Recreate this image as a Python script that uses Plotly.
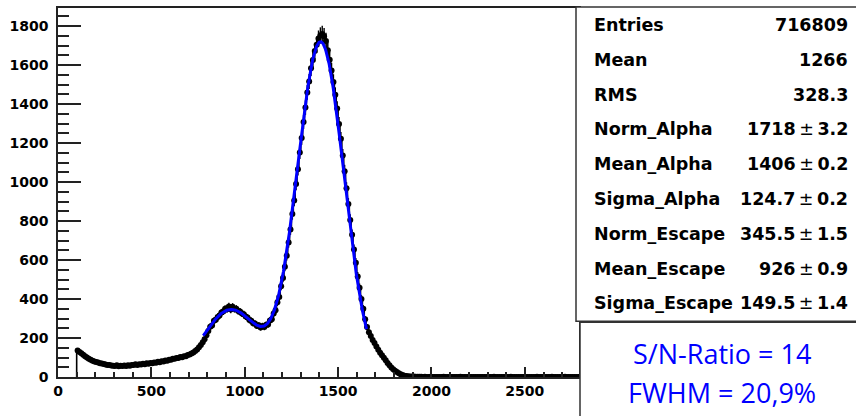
import numpy as np
import plotly.graph_objects as go

# ---- histogram: counts per unit, 10-unit bins starting at 100 ----
bin_start = 100
bin_width = 10
counts = [
    136, 128, 122, 114, 106, 100, 94, 88, 83, 80,            # 100-190
    77, 74, 71, 69, 67, 64, 62, 61, 59, 58,                  # 200-290
    57, 60, 55, 58, 56, 59, 57, 60, 58, 62,                  # 300-390
    61, 65, 62, 66, 64, 68, 66, 70, 68, 72,                  # 400-490
    71, 75, 73, 78, 76, 81, 80, 85, 84, 89,                  # 500-590
    89, 94, 93, 98, 97, 103, 101, 107, 106, 113,             # 600-690
    116, 120, 126, 133, 141, 152, 164, 178, 194, 214,        # 700-790
    236, 258, 264, 288, 294, 308, 315, 331, 336, 350,        # 800-890
    348, 362, 346, 360, 349, 350, 338, 336, 326, 322,        # 900-990
    310, 305, 292, 288, 276, 274, 262, 265, 254, 262,        # 1000-1090
    256, 268, 269, 290, 296, 326, 343, 384, 410, 466,        # 1100-1190
    508, 566, 622, 690, 757, 836, 906, 990, 1066, 1152,      # 1200-1290
    1226, 1308, 1382, 1460, 1516, 1584, 1626, 1672, 1704, 1736,  # 1300-1390
    1752, 1760, 1748, 1724, 1676, 1628, 1572, 1514, 1448, 1378,  # 1400-1490
    1298, 1222, 1136, 1056, 968, 888, 806, 730, 654, 586,    # 1500-1590
    516, 458, 400, 350, 296, 256, 230, 210, 190, 174,        # 1600-1690
    156, 140, 124, 111, 99, 86, 72, 60, 49, 40,              # 1700-1790
    32, 26, 19, 14, 10, 7, 5, 4, 3, 2,                       # 1800-1890
    2, 1, 1, 1, 1,                                           # 1900-1940
    0, 1, 0, 0, 1, 0, 0, 0, 0, 0,                            # 1950-2040
    0, 1, 0, 0, 0, 0, 0, 0, 0, 0,                            # 2050-2140
    1, 0, 0, 0, 0, 0, 0, 0, 0, 0,                            # 2150-2240
    0, 0, 0, 0, 0, 0, 0, 0, 1, 0,                            # 2250-2340
    0, 0, 0, 0, 0, 0, 0, 1, 0, 0,                            # 2350-2440
    0, 0, 0, 0, 0, 0, 0, 0, 0, 0,                            # 2450-2540
    0, 1, 0, 0, 0, 0, 0, 0, 0, 1,                            # 2550-2640
    0, 0, 0, 0, 0, 0, 1, 0, 0, 0,                            # 2650-2740
    0, 0, 0, 0,                                              # 2750-2780
]

# ---- fit parameters (double gaussian) ----
norm_alpha, mean_alpha, sigma_alpha = 1718, 1406, 124.7
norm_escape, mean_escape, sigma_escape = 345.5, 926, 149.5
fit_range = (778, 1652)

# ---- statistics box ----
stat_names = ["Entries", "Mean", "RMS", "Norm_Alpha", "Mean_Alpha", "Sigma_Alpha",
              "Norm_Escape", "Mean_Escape", "Sigma_Escape"]
stat_values = ["716809", "1266", "328.3", ("1718", "3.2"), ("1406", "0.2"),
               ("124.7", "0.2"), ("345.5", "1.5"), ("926", "0.9"), ("149.5", "1.4")]
info_lines = ["S/N-Ratio = 14", "FWHM = 20,9%"]

x_tick_vals = [0, 500, 1000, 1500, 2000, 2500]
y_tick_vals = [0, 200, 400, 600, 800, 1000, 1200, 1400, 1600, 1800]
x_range = [0, 2790]
y_range = [0, 1893]

# ---- derived arrays ----
counts = np.array(counts, dtype=float)
edges = bin_start + bin_width * np.arange(len(counts) + 1)
centers = edges[:-1] + bin_width / 2

step_x = np.concatenate([[edges[0]], edges])
step_y = np.concatenate([[0.0], counts, [counts[-1]]])

fx = np.linspace(fit_range[0], fit_range[1], 600)
fy = (norm_alpha * np.exp(-0.5 * ((fx - mean_alpha) / sigma_alpha) ** 2)
      + norm_escape * np.exp(-0.5 * ((fx - mean_escape) / sigma_escape) ** 2))

fig = go.Figure()

# statistical error bars give the noisy band of the spectrum
fig.add_trace(go.Scatter(
    x=centers, y=counts, mode="markers",
    marker=dict(size=0, color="black"),
    error_y=dict(type="data", array=np.sqrt(counts), visible=True,
                 color="black", thickness=1.4, width=0),
    hoverinfo="skip",
))
fig.add_trace(go.Scatter(
    x=step_x, y=step_y, mode="lines", line_shape="hv",
    line=dict(color="black", width=1.6), hoverinfo="skip",
))
fig.add_trace(go.Scatter(
    x=fx, y=fy, mode="lines",
    line=dict(color="#0000ff", width=3), hoverinfo="skip",
))

# ---- plot-area geometry in pixels ----
W, H = 856, 416
L, R, T, B = 58, 579, 6, 377


def px(x):
    return (x - L) / (R - L)


def py(y):
    return (B - y) / (B - T)


frame_col = "#222222"
tick_font = dict(family="DejaVu Sans", size=14, color="black", weight="bold")

fig.update_layout(
    width=W, height=H, autosize=False,
    margin=dict(l=L, r=W - R, t=T, b=H - B, pad=0),
    paper_bgcolor="white", plot_bgcolor="white",
    showlegend=False,
    xaxis=dict(
        range=x_range, tickvals=x_tick_vals, ticks="inside", ticklen=10,
        tickwidth=1.5, tickcolor=frame_col,
        minor=dict(dtick=100, tick0=0, ticks="inside", ticklen=5,
                   tickwidth=1.5, tickcolor=frame_col),
        showline=True, linecolor=frame_col, linewidth=1.5, mirror=True,
        showgrid=False, zeroline=False, tickfont=tick_font,
        ticklabelstandoff=0,
    ),
    yaxis=dict(
        range=y_range, tickvals=y_tick_vals, ticks="inside", ticklen=23,
        tickwidth=1.5, tickcolor=frame_col,
        minor=dict(dtick=50, tick0=0, ticks="inside", ticklen=11.5,
                   tickwidth=1.5, tickcolor=frame_col),
        showline=True, linecolor=frame_col, linewidth=1.5, mirror=True,
        showgrid=False, zeroline=False, tickfont=tick_font,
        ticklabelstandoff=5,
    ),
)

shapes = [
    dict(type="rect", xref="paper", yref="paper",
         x0=px(576), x1=px(880), y0=py(321), y1=py(5),
         line=dict(color="#333333", width=1.5), fillcolor="white", layer="above"),
    dict(type="rect", xref="paper", yref="paper",
         x0=px(580), x1=px(880), y0=py(440), y1=py(322),
         line=dict(color="#333333", width=1.5), fillcolor="white", layer="above"),
]
fig.update_layout(shapes=shapes)

stat_font = dict(family="DejaVu Sans", size=17.5, color="black", weight="bold")
annotations = []
for i, (name, val) in enumerate(zip(stat_names, stat_values)):
    yc = py(23 + 35 * i)
    annotations.append(dict(
        xref="paper", yref="paper", x=px(592), y=yc, xanchor="left", yanchor="middle",
        text=name, showarrow=False, font=stat_font))
    if isinstance(val, tuple):
        txt = (f"{val[0]}<span style='font-weight:normal'>\u2009\u00b1\u2009</span>{val[1]}")
    else:
        txt = val
    annotations.append(dict(
        xref="paper", yref="paper", x=px(850), y=yc, xanchor="right", yanchor="middle",
        text=txt, showarrow=False, font=stat_font))

info_font = dict(family="Open Sans", size=27, color="#0000ff")
for j, line in enumerate(info_lines):
    annotations.append(dict(
        xref="paper", yref="paper", x=px(722), y=py(353 + 40 * j),
        xanchor="center", yanchor="middle", text=line, showarrow=False,
        font=info_font))

fig.update_layout(annotations=annotations)

fig.write_html("out.html")
